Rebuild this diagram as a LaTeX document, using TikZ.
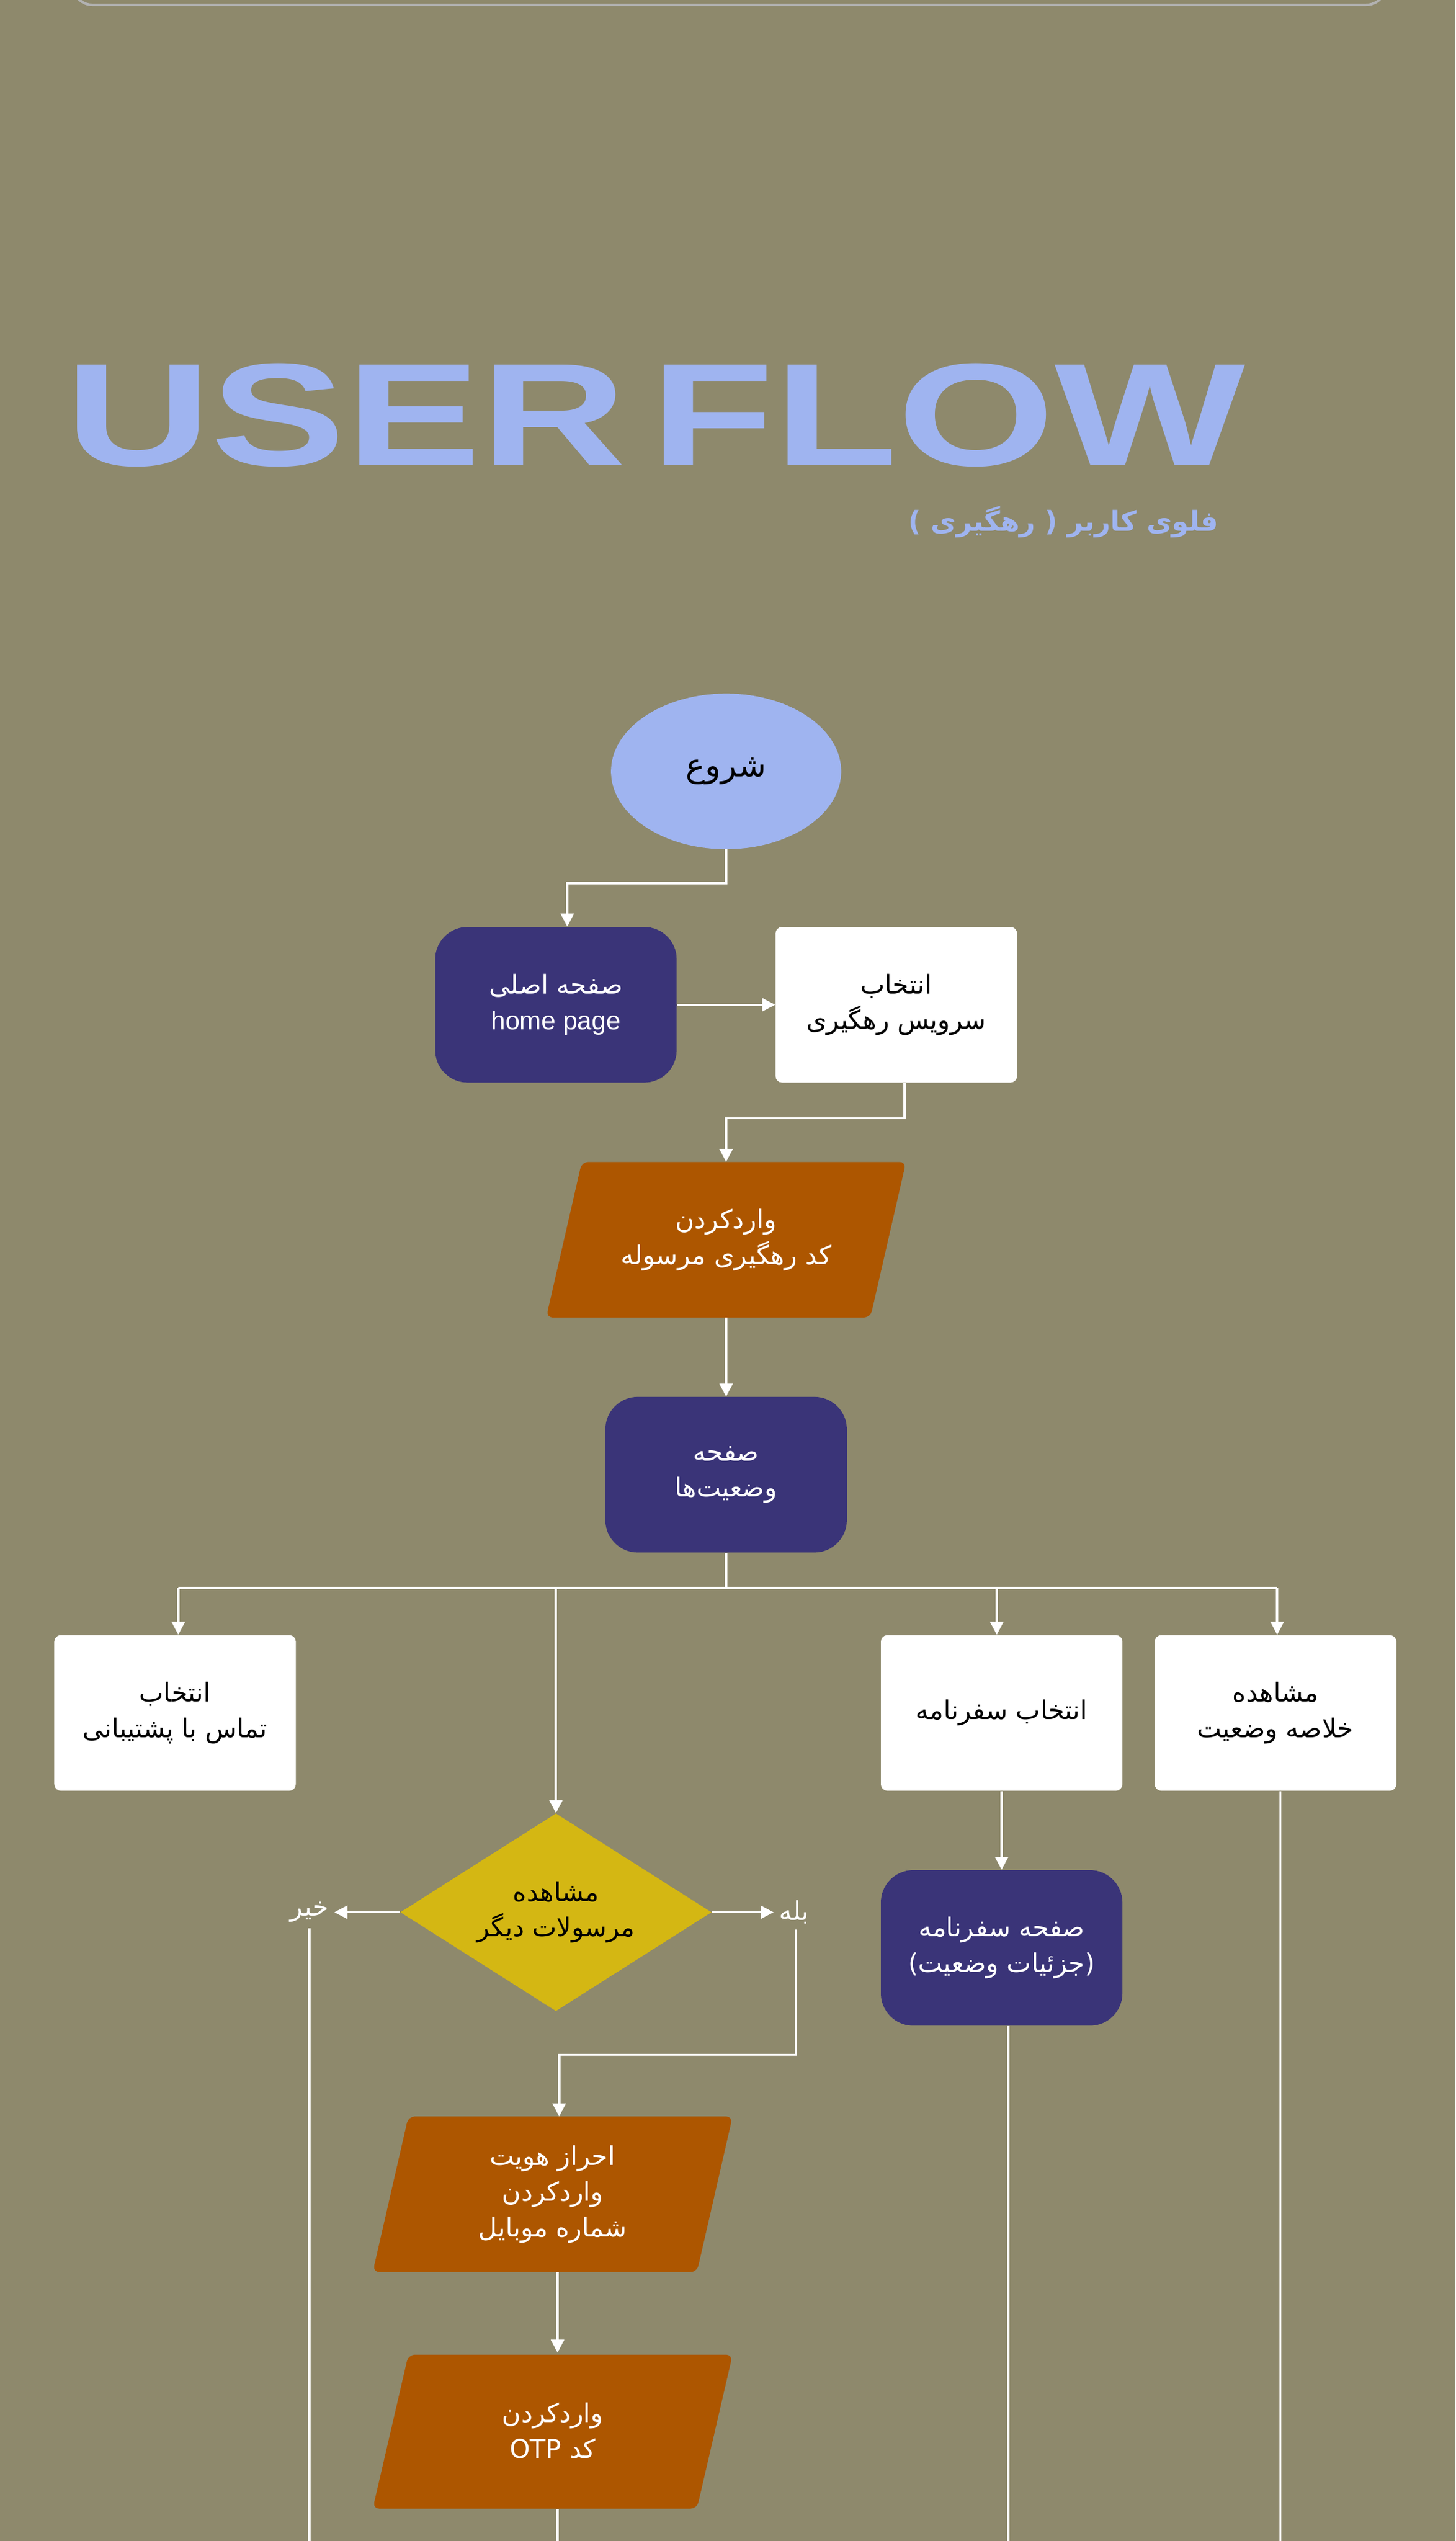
\documentclass[tikz,border=0pt]{standalone}
\usepackage{fontspec}
\setmainfont{Liberation Sans}
\newfontfamily\farsi[Script=Arabic]{DejaVu Sans}
\usetikzlibrary{shapes.geometric,arrows.meta}
\TeXXeTstate=1
\newcommand{\fa}[1]{{\farsi\beginR #1\endR}}
\definecolor{bg}{HTML}{8E896C}
\definecolor{lav}{HTML}{9FB4F0}
\definecolor{navy}{HTML}{3A3478}
\definecolor{org}{HTML}{AD5600}
\definecolor{yel}{HTML}{D4B713}
\begin{document}
\begin{tikzpicture}[x=1pt,y=-1pt,
  box/.style={minimum width=149pt,minimum height=96pt,align=center,font=\fontsize{16}{22}\selectfont,inner sep=0pt},
  wbox/.style={box,fill=white,rounded corners=4pt,text=black},
  nbox/.style={box,fill=navy,rounded corners=20pt,text=white},
  pbox/.style={box,minimum width=180pt,text=white},
  ln/.style={draw=white,line width=1.4pt},
  ar/.style={ln,-{Triangle[length=8pt,width=8pt]}}]
\useasboundingbox (0,0) rectangle (898,1568);
\fill[bg] (0,0) rectangle (898,1568);
\draw[gray!60,line width=1.5pt,rounded corners=12pt] (45,-30) rectangle (855,3);
\node[anchor=north west,inner sep=0pt,text=lav] (title) at (40,224) {\resizebox{728pt}{63pt}{\bfseries USER\kern0.12em FLOW}};
\node[anchor=east,inner sep=0pt,text=lav,font=\fontsize{17}{22}\selectfont\bfseries] (sub) at (752,322) {\fa{فلوی کاربر ( رهگیری )}};
\node[ellipse,fill=lav,minimum width=142pt,minimum height=96pt,font=\fontsize{20}{24}\selectfont] (start) at (448,476) {\fa{شروع}};
\node[nbox] (home) at (343,620) {\fa{صفحه اصلی}\\home page};
\node[wbox] (sel) at (553,620) {\fa{انتخاب}\\\fa{سرویس رهگیری}};
\fill[org,rounded corners=4pt] (359,717)--(559,717)--(537,813)--(337,813)--cycle;
\node[pbox] (code) at (448,765) {\fa{واردکردن}\\\fa{کد رهگیری مرسوله}};
\node[nbox] (stat) at (448,910) {\fa{صفحه}\\\fa{وضعیت‌ها}};
\node[wbox] (sup) at (108,1057) {\fa{انتخاب}\\\fa{تماس با پشتیبانی}};
\node[wbox] (itin) at (618,1057) {\fa{انتخاب سفرنامه}};
\node[wbox] (summ) at (787,1057) {\fa{مشاهده}\\\fa{خلاصه وضعیت}};
\node[diamond,fill=yel,minimum width=192pt,minimum height=122pt,inner sep=0pt,aspect=1.6] (dia) at (343,1180) {};
\node[align=center,font=\fontsize{16}{22}\selectfont] (diat) at (343,1180) {\fa{مشاهده}\\\fa{مرسولات دیگر}};
\node[text=white,font=\fontsize{16}{20}\selectfont] (no) at (191,1180) {\fa{خیر}};
\node[text=white,font=\fontsize{16}{20}\selectfont] (yes) at (490,1180) {\fa{بله}};
\node[nbox] (ipage) at (618,1202) {\fa{صفحه سفرنامه}\\\fa{(جزئیات وضعیت)}};
\fill[org,rounded corners=4pt] (252,1306)--(452,1306)--(430,1402)--(230,1402)--cycle;
\node[pbox] (auth) at (341,1354) {\fa{احراز هویت}\\\fa{واردکردن}\\\fa{شماره موبایل}};
\fill[org,rounded corners=4pt] (252,1453)--(452,1453)--(430,1548)--(230,1548)--cycle;
\node[pbox] (otp) at (341,1500) {\fa{واردکردن}\\{\farsi\beginR کد \beginL OTP\endL\endR}};
\coordinate (auth-top) at (345,1306);
\coordinate (code-top) at (448,717);
\coordinate (code-bot) at (448,813);
\draw[ar] (start.south) |- (350,545) -- (home.north -| 350,0);
\draw[ar] (home.east) -- (sel.west);
\draw[ar] (sel.south -| 558,0) |- (448,690) -- (code-top);
\draw[ar] (code-bot) -- (stat.north);
\draw[ln] (stat.south) -- (448,980);
\draw[ln] (110,980) -- (788,980);
\draw[ar] (110,980) -- (sup.north -| 110,0);
\draw[ar] (615,980) -- (itin.north -| 615,0);
\draw[ar] (788,980) -- (summ.north -| 788,0);
\draw[ar] (343,980) -- (dia.north);
\draw[ar] (dia.west) -- (no.east);
\draw[ar] (dia.east) -- (yes.west);
\draw[ar] (yes.south -| 491,0) |- (345,1268) -- (auth-top);
\draw[ln] (no.south -| 191,0) -- (191,1568);
\draw[ar] (itin.south) -- (ipage.north);
\draw[ln] (ipage.south -| 622,0) -- (622,1568);
\draw[ln] (summ.south -| 790,0) -- (790,1568);
\draw[ar] (auth.south -| 344,0) -- (otp.north -| 344,0);
\draw[ln] (otp.south -| 344,0) -- (344,1568);
\end{tikzpicture}
\end{document}
